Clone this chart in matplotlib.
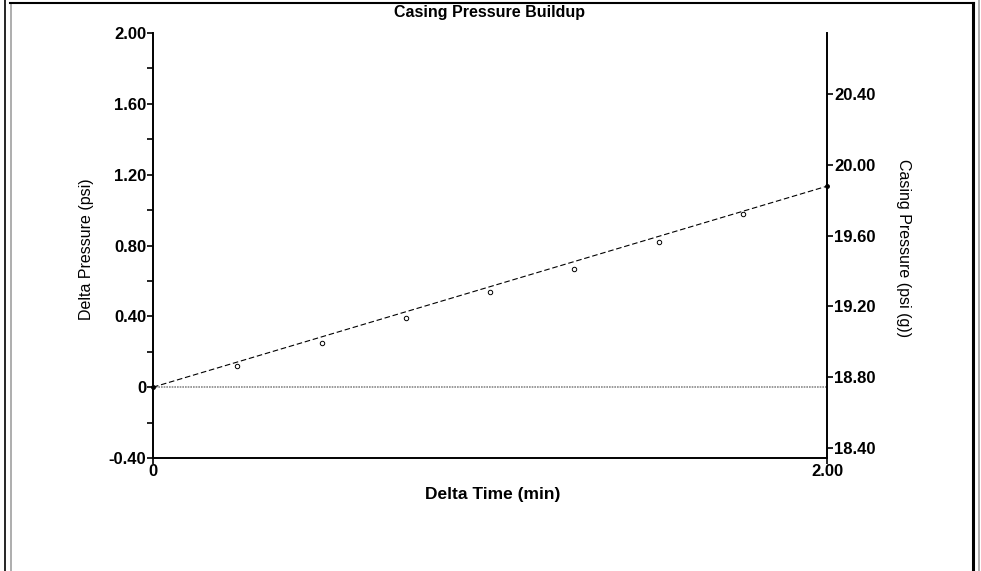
import numpy as np
import matplotlib
matplotlib.use("Agg")
import matplotlib.pyplot as plt
from matplotlib.lines import Line2D
from matplotlib.ticker import FixedLocator, FuncFormatter

plt.rcParams['font.family'] = ['Liberation Sans', 'DejaVu Sans']

# --- data ---
delta_time = [0.0, 0.25, 0.50, 0.75, 1.00, 1.25, 1.50, 1.75, 2.00]
delta_p = [0.0, 0.12, 0.25, 0.39, 0.54, 0.67, 0.82, 0.98, 1.135]
fit_time = [0.0, 2.0]
fit_dp = [0.0, 1.135]
casing_p0 = 18.744   # casing pressure at delta time 0 (psi g)

left_ticks = [-0.40, 0.0, 0.40, 0.80, 1.20, 1.60, 2.00]
right_ticks = [18.40, 18.80, 19.20, 19.60, 20.00, 20.40]
x_ticks = [0.0, 2.0]

W, H = 981, 571
fig = plt.figure(figsize=(W / 100, H / 100), dpi=100)
ax = fig.add_axes([153 / W, 1 - 458 / H, (827 - 153) / W, (458 - 33) / H])

# zero line and fit
ax.plot([0, 2.0], [0, 0], color="#8a8a8a", lw=1.2, ls=(0, (1, 0.6)), zorder=1)
ax.plot(fit_time, fit_dp, color="black", lw=0.8, ls=(0, (5, 2.5)), zorder=2)
ax.plot(delta_time[1:-1], delta_p[1:-1], "o", ms=3.2, mfc="white", mec="black",
        mew=0.7, zorder=3, clip_on=False)
ax.plot([delta_time[0], delta_time[-1]], [delta_p[0], delta_p[-1]], "o", ms=2.5,
        color="black", zorder=3, clip_on=False)

ax.set_xlim(0, 2.0)
ax.set_ylim(-0.40, 2.00)

ax.spines['top'].set_visible(False)
ax.spines['right'].set_visible(False)
for s in ('left', 'bottom'):
    ax.spines[s].set_linewidth(1.4)

fmt = lambda v, p: "0" if abs(v) < 1e-9 else f"{v:.2f}"
ax.yaxis.set_major_locator(FixedLocator(left_ticks))
ax.yaxis.set_minor_locator(FixedLocator(np.arange(-0.2, 2.0, 0.4)))
ax.yaxis.set_major_formatter(FuncFormatter(fmt))
ax.xaxis.set_major_locator(FixedLocator(x_ticks))
ax.xaxis.set_major_formatter(FuncFormatter(fmt))

ax.tick_params(axis='y', which='both', direction='out', length=4, width=1.2,
               pad=1, labelsize=12)
ax.tick_params(axis='x', direction='out', length=4, width=1.2, pad=0, labelsize=12)
for lab in ax.get_xticklabels() + ax.get_yticklabels():
    lab.set_fontweight('bold')

ax2 = ax.twinx()
ax2.set_ylim(-0.40 + casing_p0, 2.00 + casing_p0)
ax2.yaxis.set_major_locator(FixedLocator(right_ticks))
ax2.yaxis.set_major_formatter(FuncFormatter(lambda v, p: f"{v:.2f}"))
ax2.tick_params(axis='y', direction='out', length=4, width=1.2, pad=1, labelsize=12)
for lab in ax2.get_yticklabels():
    lab.set_fontweight('bold')
for s in ('top', 'left', 'bottom'):
    ax2.spines[s].set_visible(False)
ax2.spines['right'].set_linewidth(1.4)

fig.text(490 / W, 1 - 13 / H, "Casing Pressure Buildup", ha="center", va="center",
         fontsize=11.5, fontweight="bold")
fig.text(493 / W, 1 - 494 / H, "Delta Time (min)", ha="center", va="center",
         fontsize=12.5, fontweight="bold")
fig.text(86 / W, 1 - 249 / H, "Delta Pressure (psi)", ha="center", va="center",
         rotation=90, fontsize=11.5)
fig.text(903 / W, 1 - 248 / H, "Casing Pressure (psi (g))", ha="center", va="center",
         rotation=-90, fontsize=11.5)

# panel border
fx = lambda px: px / W
fy = lambda py: 1 - py / H
fig.add_artist(Line2D([fx(5), fx(5)], [0, 1], color="black", lw=1.2))
fig.add_artist(Line2D([fx(11), fx(11)], [0, fy(3)], color="#a0a0a0", lw=1.2))
fig.add_artist(Line2D([fx(10), fx(974)], [fy(3), fy(3)], color="black", lw=1.5))
fig.add_artist(Line2D([fx(973), fx(973)], [0, fy(3)], color="black", lw=2.2))
fig.add_artist(Line2D([fx(979), fx(979)], [0, 1], color="#a0a0a0", lw=1.2))

fig.savefig("out.png", dpi=100)
